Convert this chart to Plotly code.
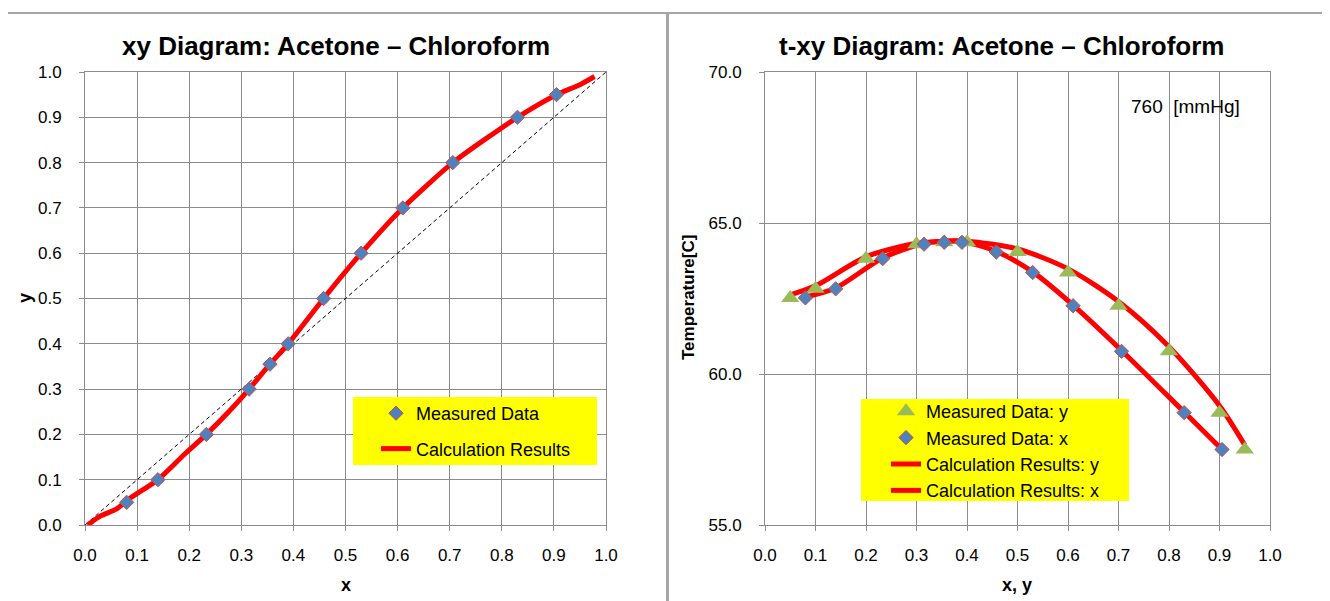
import plotly.graph_objects as go

W, H = 1330, 601
OFF = 8  # page body margin of the html page

# ---------------- data ----------------
# measured equilibrium data (acetone mole fraction)
meas_x = [0.080, 0.140, 0.233, 0.315, 0.355, 0.390, 0.458, 0.530, 0.610, 0.706, 0.830, 0.905]
meas_y = [0.050, 0.100, 0.200, 0.300, 0.355, 0.400, 0.500, 0.600, 0.700, 0.800, 0.900, 0.950]
meas_T = [62.52, 62.82, 63.82, 64.30, 64.36, 64.36, 64.04, 63.36, 62.26, 60.75, 58.72, 57.50]

# calculated xy curve
calc_xy_x = [0.005, 0.030, 0.060, 0.085, 0.140, 0.190, 0.233, 0.280, 0.315, 0.355, 0.390,
             0.458, 0.530, 0.610, 0.706, 0.830, 0.905, 0.950, 0.978]
calc_xy_y = [0.000, 0.020, 0.035, 0.058, 0.100, 0.155, 0.200, 0.255, 0.300, 0.355, 0.400,
             0.500, 0.600, 0.700, 0.800, 0.900, 0.950, 0.972, 0.990]

# diagonal reference
diag = [0.0, 1.0]

# calculated t-xy curves
calc_ty_x = [0.050, 0.100, 0.200, 0.300, 0.355, 0.400, 0.500, 0.600, 0.700, 0.800, 0.900, 0.950]
calc_ty_T = [62.62, 62.92, 63.88, 64.33, 64.40, 64.40, 64.14, 63.48, 62.40, 60.90, 58.95, 57.65]
calc_tx_x = [0.080, 0.140, 0.233, 0.315, 0.355, 0.390, 0.458, 0.530, 0.610, 0.706, 0.830, 0.905]
calc_tx_T = [62.55, 62.85, 63.84, 64.33, 64.39, 64.39, 64.06, 63.38, 62.28, 60.78, 58.74, 57.50]

x_ticks = [0.0, 0.1, 0.2, 0.3, 0.4, 0.5, 0.6, 0.7, 0.8, 0.9, 1.0]
y_ticks = [0.0, 0.1, 0.2, 0.3, 0.4, 0.5, 0.6, 0.7, 0.8, 0.9, 1.0]
t_ticks = [55.0, 60.0, 65.0, 70.0]

# ---------------- styling ----------------
FONT = "Liberation Sans, Arial, sans-serif"
GRID = "#8C8C8C"
RED = "#FF0000"
BLUE = "#4F81BD"
BLUE_EDGE = "#C0504D"
GREEN = "#9BBB59"
YELLOW = "#FFFF00"


def px(x):
    return (x - OFF) / W


def py(y):
    return 1 - (y - OFF) / H


fig = go.Figure()

# ---- left: xy diagram ----
fig.add_trace(go.Scatter(x=diag, y=diag, mode="lines", xaxis="x", yaxis="y",
                         line=dict(color="black", width=1, dash="4px,3px"),
                         showlegend=False, hoverinfo="skip"))
fig.add_trace(go.Scatter(x=calc_xy_x, y=calc_xy_y, mode="lines", xaxis="x", yaxis="y",
                         line=dict(color=RED, width=5, shape="spline", smoothing=0.6),
                         name="Calculation Results", legend="legend", legendrank=2,
                         legendgroup="calc"))
fig.add_trace(go.Scatter(x=meas_x, y=meas_y, mode="markers", xaxis="x", yaxis="y",
                         marker=dict(symbol="diamond", size=11, color=BLUE,
                                     line=dict(color=BLUE_EDGE, width=1)),
                         name="Measured Data", legend="legend", legendrank=1,
                         legendgroup="meas"))

# ---- right: t-xy diagram ----
fig.add_trace(go.Scatter(x=calc_ty_x, y=calc_ty_T, mode="lines", xaxis="x2", yaxis="y2",
                         line=dict(color=RED, width=5, shape="spline", smoothing=0.8),
                         name="Calculation Results: y", legend="legend2", legendrank=3))
fig.add_trace(go.Scatter(x=calc_tx_x, y=calc_tx_T, mode="lines", xaxis="x2", yaxis="y2",
                         line=dict(color=RED, width=5, shape="spline", smoothing=0.8),
                         name="Calculation Results: x", legend="legend2", legendrank=4))
fig.add_trace(go.Scatter(x=meas_y, y=meas_T, mode="markers", xaxis="x2", yaxis="y2",
                         marker=dict(symbol="triangle-up", size=16, color=GREEN),
                         name="Measured Data: y", legend="legend2", legendrank=1))
fig.add_trace(go.Scatter(x=meas_x, y=meas_T, mode="markers", xaxis="x2", yaxis="y2",
                         marker=dict(symbol="diamond", size=11, color=BLUE,
                                     line=dict(color=BLUE_EDGE, width=1)),
                         name="Measured Data: x", legend="legend2", legendrank=2))

axis_common = dict(showgrid=True, gridcolor=GRID, gridwidth=1, showline=True, linecolor=GRID,
                   linewidth=1, mirror=True, ticks="outside", ticklen=5, tickcolor=GRID,
                   zeroline=False, tickformat=".1f", automargin=False,
                   tickfont=dict(family=FONT, size=17, color="black"))


def ann(text, x, y, size, angle=0):
    return dict(text=text, x=px(x), y=py(y), xref="paper", yref="paper",
                xanchor="center", yanchor="middle", showarrow=False, textangle=angle,
                font=dict(family=FONT, size=size, color="black"))


top_y, bot_y = 72, 525
fig.update_layout(
    width=W, height=H,
    margin=dict(l=0, r=0, t=0, b=0, pad=0, autoexpand=False),
    paper_bgcolor="white", plot_bgcolor="white",
    font=dict(family=FONT, color="black"),
    xaxis=dict(domain=[px(85), px(606)], range=[0, 1], tickvals=x_ticks, anchor="y",
               ticklabelstandoff=10, **axis_common),
    yaxis=dict(domain=[py(bot_y), py(top_y)], range=[0, 1], tickvals=y_ticks, anchor="x",
               ticklabelstandoff=14, **axis_common),
    xaxis2=dict(domain=[px(765), px(1270)], range=[0, 1], tickvals=x_ticks, anchor="y2",
                ticklabelstandoff=10, **axis_common),
    yaxis2=dict(domain=[py(bot_y), py(top_y)], range=[55, 70], tickvals=t_ticks, anchor="x2",
                ticklabelstandoff=14, **axis_common),
    legend=dict(x=px(376), y=py(395), xanchor="left", yanchor="top",
                bgcolor="rgba(0,0,0,0)", borderwidth=0, traceorder="grouped",
                font=dict(family=FONT, size=18, color="black"),
                tracegroupgap=9),
    legend2=dict(x=px(886), y=py(393), xanchor="left", yanchor="top",
                 bgcolor="rgba(0,0,0,0)", borderwidth=0, traceorder="normal",
                 font=dict(family=FONT, size=18, color="black")),
    shapes=[
        dict(type="rect", xref="paper", yref="paper", x0=px(3), x1=px(667),
             y0=py(640), y1=py(13), line=dict(color="#A6A6A6", width=2), layer="below"),
        dict(type="rect", xref="paper", yref="paper", x0=px(668), x1=px(1345),
             y0=py(640), y1=py(13), line=dict(color="#A6A6A6", width=2), layer="below"),
        dict(type="rect", xref="paper", yref="paper", x0=px(353), x1=px(597),
             y0=py(465), y1=py(397), fillcolor=YELLOW, line=dict(width=0), layer="above"),
        dict(type="rect", xref="paper", yref="paper", x0=px(861), x1=px(1129),
             y0=py(501), y1=py(399), fillcolor=YELLOW, line=dict(width=0), layer="above"),
    ],
    annotations=[
        ann("<b>xy Diagram: Acetone \u2013 Chloroform</b>", 336, 46, 26),
        ann("<b>t-xy Diagram: Acetone \u2013 Chloroform</b>", 1001, 46, 26),
        ann("<b>x</b>", 346, 585, 18),
        ann("<b>y</b>", 25, 298, 18, -90),
        ann("<b>x, y</b>", 1017, 585, 18),
        ann("<b>Temperature[C]</b>", 688, 298, 17, -90),
        ann("760\u00a0 [mmHg]", 1185, 107, 19),
    ],
)

fig.write_html("out.html")
